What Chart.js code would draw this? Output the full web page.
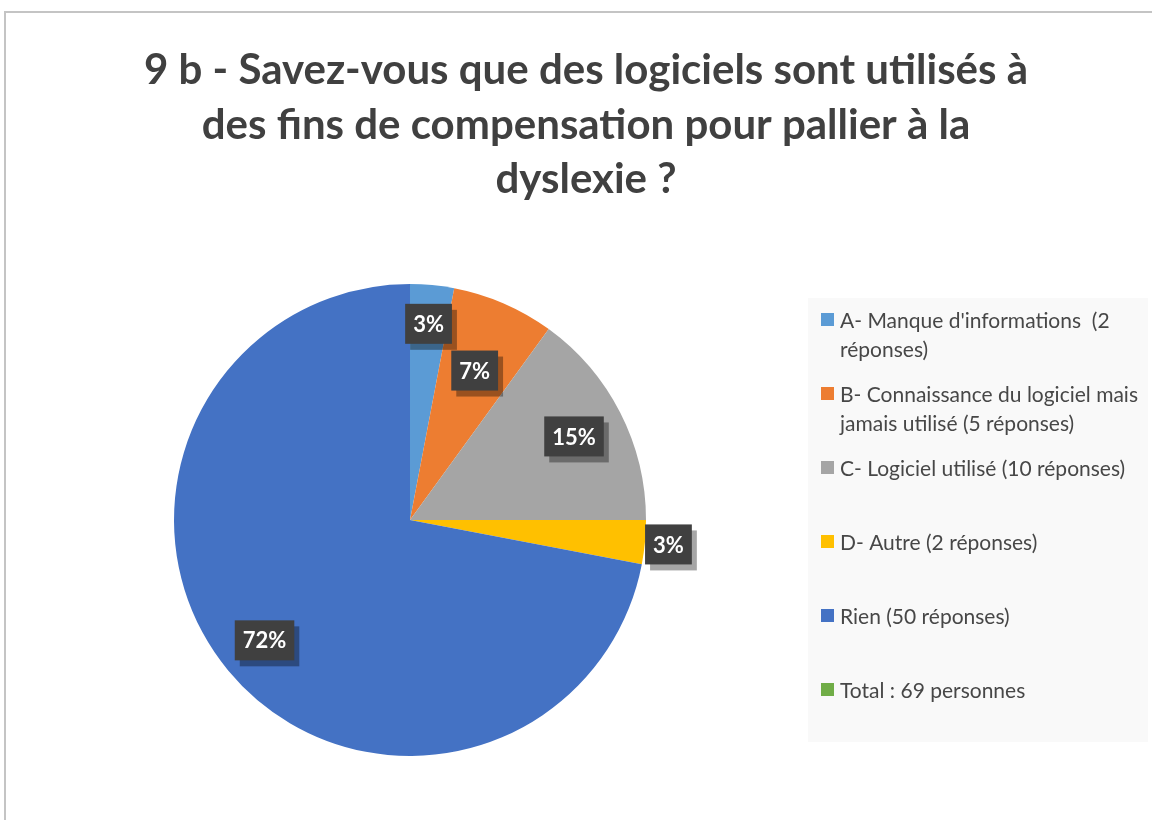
<!DOCTYPE html>
<html>
<head>
<meta charset="utf-8">
<script src="https://cdn.jsdelivr.net/npm/chart.js"></script>
<style>
  body { margin: 0; background: #fff; }
  canvas { display: block; }
</style>
</head>
<body>
<canvas id="logiciels-chart" width="1152" height="820"></canvas>
<script>
var titleLines = [
    '9 b - Savez-vous que des logiciels sont utilisés à',
    'des fins de compensation pour pallier à la',
    'dyslexie ?'
];
var legendLines = [
    ["A- Manque d'informations  (2", 'réponses)'],
    ['B- Connaissance du logiciel mais', 'jamais utilisé (5 réponses)'],
    ['C- Logiciel utilisé (10 réponses)'],
    ['D- Autre (2 réponses)'],
    ['Rien (50 réponses)'],
    ['Total : 69 personnes']
];
// share of answers, in percent
var shares = [3, 7, 15, 3, 72, 0];
var colors = ['#5b9bd5', '#ed7d31', '#a5a5a5', '#ffc000', '#4472c4', '#70ad47'];

// how far out each percent tag sits, as a part of the radius
var tagRadius = [0.835, 0.69, 0.78, 1.10, 0.80, 0.8];

var frameAndText = {
    id: 'frameAndText',
    beforeDraw: function(chart) {
        var ctx = chart.ctx;
        ctx.save();
        ctx.fillStyle = '#fff';
        ctx.fillRect(0, 0, chart.width, chart.height);
        // outer frame
        ctx.strokeStyle = '#c4c4c4';
        ctx.lineWidth = 2;
        ctx.beginPath();
        ctx.moveTo(5, chart.height);
        ctx.lineTo(5, 12);
        ctx.lineTo(chart.width, 12);
        ctx.stroke();
        // title
        ctx.fillStyle = '#404040';
        ctx.font = 'bold 42px Lato';
        ctx.textAlign = 'center';
        ctx.textBaseline = 'alphabetic';
        titleLines.forEach(function(line, i) {
            ctx.fillText(line, 586, 84 + i * 54.5);
        });
        // legend panel
        ctx.fillStyle = '#f9f9f9';
        ctx.fillRect(808, 298, 340, 444);
        ctx.font = '21px Lato';
        ctx.textBaseline = 'middle';
        ctx.textAlign = 'left';
        legendLines.forEach(function(lines, i) {
            var y = 321 + i * 74;
            ctx.fillStyle = colors[i];
            ctx.fillRect(821, y - 8, 13, 13);
            ctx.fillStyle = '#474747';
            lines.forEach(function(t, j) {
                ctx.fillText(t, 840, y + j * 29);
            });
        });
        ctx.restore();
    }
};

var percentTags = {
    id: 'percentTags',
    afterDatasetsDraw: function(chart) {
        var ctx = chart.ctx;
        var meta = chart.getDatasetMeta(0);
        ctx.save();
        ctx.font = 'bold 22px Lato';
        ctx.textAlign = 'center';
        ctx.textBaseline = 'middle';
        meta.data.forEach(function(arc, i) {
            var v = shares[i];
            if (!v) return;
            var p = arc.getProps(['x', 'y', 'startAngle', 'endAngle', 'outerRadius'], true);
            var mid = (p.startAngle + p.endAngle) / 2;
            var r = p.outerRadius * tagRadius[i];
            var x = p.x + Math.cos(mid) * r;
            var y = p.y + Math.sin(mid) * r;
            var text = v + '%';
            var w = ctx.measureText(text).width + 16;
            var h = 40;
            ctx.fillStyle = 'rgba(0, 0, 0, 0.35)';
            ctx.fillRect(x - w / 2 + 5, y - h / 2 + 6, w, h);
            ctx.fillStyle = '#404040';
            ctx.fillRect(x - w / 2, y - h / 2, w, h);
            ctx.fillStyle = '#fff';
            ctx.fillText(text, x, y + 1);
        });
        ctx.restore();
    }
};

var ctx = document.getElementById('logiciels-chart').getContext('2d');
var pieChart = new Chart(ctx, {
    type: 'pie',
    data: {
        labels: legendLines.map(function(l) { return l.join(' '); }),
        datasets: [{
            data: shares,
            backgroundColor: colors,
            borderWidth: 0
        }]
    },
    options: {
        responsive: false,
        animation: false,
        layout: {
            padding: { left: 174, right: 506, top: 284, bottom: 64 }
        },
        plugins: {
            legend: { display: false },
            title: { display: false },
            tooltip: { enabled: false }
        }
    },
    plugins: [frameAndText, percentTags]
});
</script>
</body>
</html>
